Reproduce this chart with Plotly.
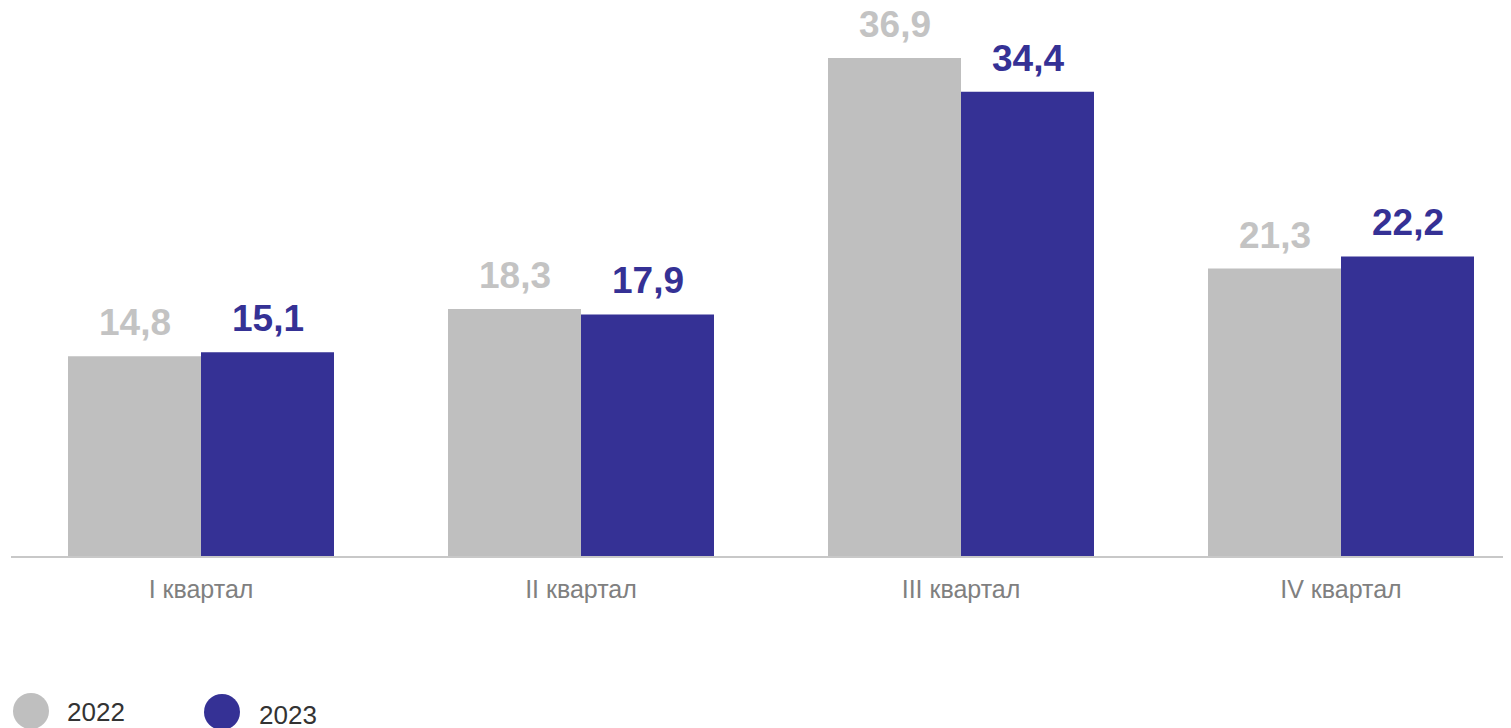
import plotly.graph_objects as go

categories = ["I квартал", "II квартал", "III квартал", "IV квартал"]
values_2022 = [14.8, 18.3, 36.9, 21.3]
values_2023 = [15.1, 17.9, 34.4, 22.2]
series_names = ["2022", "2023"]

GRAY = "#bfbfbf"
BLUE = "#353195"
FONT = "Liberation Sans, Arial, sans-serif"

# page body adds an 8px offset, so the figure is sized to fit the window
OFF = 8
W, H = 1511 - OFF, 728 - OFF
ML, MR, MT, MB = 3, 0, 0, 172
plot_w = W - ML - MR
plot_h = H - MT - MB
x_range = [-0.5, -0.5 + plot_w / 380.0]
y_range = [0, plot_h / 13.496]
bargap = 0.3
px_per_unit = plot_w / (x_range[1] - x_range[0])
bar_w_px = (1 - bargap) / 2 * px_per_unit

fig = go.Figure()
fig.add_trace(go.Bar(x=categories, y=values_2022, name=series_names[0],
                     marker=dict(color=GRAY, line=dict(width=0)), showlegend=False))
fig.add_trace(go.Bar(x=categories, y=values_2023, name=series_names[1],
                     marker=dict(color=BLUE, line=dict(width=0)), showlegend=False))

def fmt(v):
    return f"{v:.1f}".replace(".", ",")

annotations = []
for series, color, sign in [(values_2022, "#c3c3c3", -1), (values_2023, BLUE, 1)]:
    for c, v in zip(categories, series):
        annotations.append(dict(
            x=c, y=v, xref="x", yref="y", text=fmt(v), showarrow=False,
            xanchor="center", yanchor="bottom", xshift=sign * bar_w_px / 2, yshift=11,
            font=dict(family=FONT, size=37, color=color, weight="bold")))

# manual legend (large circles); positions given in window pixels
legend_items = [(series_names[0], GRAY, 31, 711, 65, 712), (series_names[1], BLUE, 222, 712, 257, 715)]
shapes = []
for name, color, cx, cy, tx, ty in legend_items:
    cx, cy, tx, ty = cx - OFF, cy - OFF, tx - OFF, ty - OFF
    shapes.append(dict(type="circle", xref="paper", yref="paper",
                       xsizemode="pixel", ysizemode="pixel",
                       xanchor=(cx - ML) / plot_w, yanchor=(H - MB - cy) / plot_h,
                       x0=-18, x1=18, y0=-18, y1=18,
                       fillcolor=color, line=dict(width=0)))
    annotations.append(dict(x=(tx - ML) / plot_w, y=(H - MB - ty) / plot_h, xref="paper", yref="paper",
                            text=name, showarrow=False, xanchor="left", yanchor="middle",
                            font=dict(family=FONT, size=26, color="#333333")))

fig.update_layout(
    width=W, height=H,
    margin=dict(l=ML, r=MR, t=MT, b=MB, pad=0),
    paper_bgcolor="white", plot_bgcolor="white",
    barmode="group", bargap=bargap, bargroupgap=0,
    showlegend=False,
    annotations=annotations, shapes=shapes,
    xaxis=dict(range=x_range, showgrid=False, zeroline=False, showline=True,
               linecolor="#c8c8c8", linewidth=2, ticks="",
               tickfont=dict(family=FONT, size=25, color="#808080"),
               ticklabelstandoff=10),
    yaxis=dict(range=y_range, visible=False, showgrid=False, zeroline=False),
)

fig.write_html("out.html")
